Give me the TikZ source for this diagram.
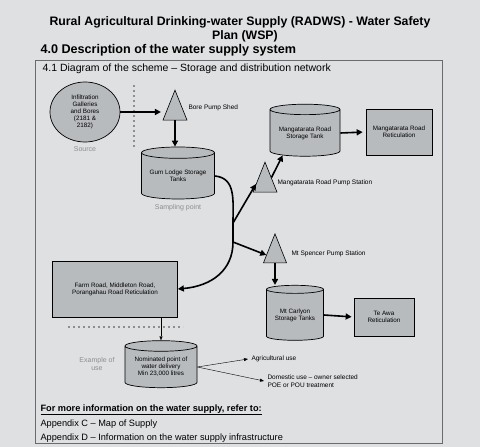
\documentclass[tikz,border=0pt]{standalone}
\usepackage{fontspec}
\setmainfont{Liberation Sans}
\usetikzlibrary{shapes.geometric,positioning,arrows.meta}
\definecolor{paper}{RGB}{222,224,226}
\definecolor{shade}{RGB}{184,187,190}
\definecolor{faint}{RGB}{140,142,145}
\definecolor{frame}{RGB}{105,107,110}

\begin{document}
\begin{tikzpicture}[x=1pt,y=-1pt,
  every node/.style={font=\fontsize{6.3}{7}\selectfont, align=center},
  tank/.style={cylinder, shape border rotate=90, aspect=0.2, draw, fill=shade, line width=0.7pt, inner sep=0pt},
  pump/.style={isosceles triangle, shape border rotate=90, isosceles triangle stretches, draw, fill=shade, line width=0.6pt, minimum width=24pt, minimum height=30pt, inner sep=0pt},
  retic/.style={rectangle, draw, fill=shade, line width=0.7pt},
  lbl/.style={font=\fontsize{6.5}{7.5}\selectfont},
  note/.style={text=faint, font=\fontsize{7}{8}\selectfont},
  flow/.style={line width=1.6pt, -{Triangle[length=6pt,width=6pt]}},
  thin flow/.style={line width=0.4pt, -{Triangle[length=4pt,width=3pt]}},
  dots/.style={line width=2pt, dash pattern=on 2pt off 3pt, faint}]
\useasboundingbox[fill=paper] (0,0) rectangle (480,447);
\draw[frame, line width=0.6pt] (35,60) rectangle (442,443);

% headings
\node[font=\bfseries\fontsize{12.3}{14}\selectfont] (title) at (240,22) {Rural Agricultural Drinking-water Supply (RADWS) - Water Safety};
\node[font=\bfseries\fontsize{12.3}{14}\selectfont] (title2) at (245,36) {Plan (WSP)};
\node[font=\bfseries\fontsize{12.6}{14}\selectfont, anchor=west] (sec) at (37,50) {4.0 Description of the water supply system};
\node[font=\fontsize{10.5}{12}\selectfont, anchor=west] (subsec) at (39,69) {4.1 Diagram of the scheme -- Storage and distribution network};

% source and bores
\node[ellipse, draw, fill=shade, line width=0.7pt, minimum width=70pt, minimum height=60pt, inner sep=0pt] (src) at (85,112) {Infiltration\\Galleries\\and Bores\\(2181 \&\\2182)};
\node[note, below=1pt of src] (srclbl) {Source};
\coordinate (d1) at (134,85);
\coordinate (d2) at (134,148);
\draw[dots] (d1) -- (d2);
\node[pump] (bps) at (175,112) {};
\node[lbl, anchor=west] (bpslbl) at (185,108) {Bore Pump Shed};
\node[tank, minimum width=73pt, minimum height=52pt] (gum) at (178,176) {Gum Lodge Storage\\Tanks};
\node[note, below=2pt of gum] (samp) {Sampling point};

% Mangatarata Road
\node[pump] (mgpump) at (265,184) {};
\node[lbl, anchor=west] (mgpumplbl) at (274,183) {Mangatarata Road Pump Station};
\node[tank, minimum width=70pt, minimum height=52pt] (mgtank) at (305,133) {Mangatarata Road\\Storage Tank};
\node[retic, minimum width=66pt, minimum height=46pt] (mgret) at (399,132) {Mangatarata Road\\Reticulation};

% Mt Spencer
\node[pump, minimum width=23pt, minimum height=29pt] (msp) at (275,255) {};
\node[lbl, anchor=west] (msplbl) at (288,254) {Mt Spencer Pump Station};
\node[tank, minimum width=57pt, minimum height=55pt] (mctank) at (295,315) {Mt Carlyon\\Storage Tanks};
\node[retic, minimum width=60pt, minimum height=38pt] (teawa) at (384,317) {Te Awa\\Reticulation};

% Farm Road and delivery point
\node[retic, minimum width=125pt, minimum height=56pt] (farm) at (115,289) {Farm Road, Middleton Road,\\Porangahau Road Reticulation};
\coordinate (d3) at (68,327);
\coordinate (d4) at (183,327);
\draw[dots] (d3) -- (d4);
\node[tank, minimum width=72pt, minimum height=47pt] (nom) at (161,367) {Nominated point of\\water delivery\\Min 23,000 litres};
\node[note] (exlbl) at (97,364) {Example of\\use};
\node[lbl, anchor=west] (agri) at (248,359) {Agricultural use};
\node[lbl, anchor=west, align=left] (dom) at (264,381) {Domestic use -- owner selected\\POE or POU treatment};

% connectors
\draw[flow, shorten >=5pt] (src.east) -- (src.east -| bps.west);
\draw[flow] (bps.south) -- (bps.south |- gum.north);
\draw[line width=1.6pt] (gum.east) .. controls (236,178) and (233,200) .. (233,223) coordinate (j1)
  -- (233,242) coordinate (j2);
\draw[flow] (j2) .. controls (233,270) and (212,286) .. (farm.east);
\draw[flow] (j1) -- (mgpump.west);
\draw[flow] (j2) -- (msp.west);
\draw[flow] (mgpump.north east) -- (mgtank.south west);
\draw[flow, shorten >=3pt] (mgtank.east) -- (mgret.west);
\draw[flow] (msp.south) -- (msp.south |- mctank.north);
\draw[flow, shorten >=2pt] (mctank.east) -- (teawa.west);
\draw[thin flow] (farm.south -| nom.north) -- (nom.north);
\draw[thin flow] (nom.east) -- (agri.west);
\draw[thin flow] (nom.east) -- (dom.west);

% references
\node[font=\bfseries\fontsize{9.2}{11}\selectfont, anchor=west] (more) at (37,410) {\underline{For more information on the water supply, refer to:}};
\node[font=\fontsize{9.2}{11}\selectfont, anchor=west] (appc) at (37,424) {Appendix C -- Map of Supply};
\node[font=\fontsize{9.2}{11}\selectfont, anchor=west] (appd) at (37,438) {Appendix D -- Information on the water supply infrastructure};
\end{tikzpicture}
\end{document}
